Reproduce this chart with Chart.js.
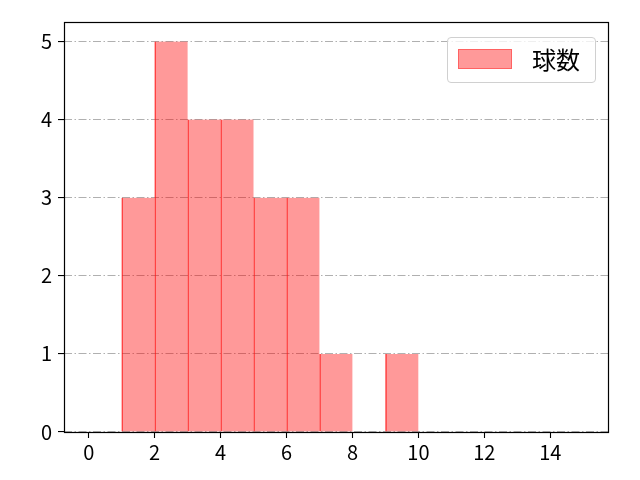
<!DOCTYPE html>
<html>
<head>
<meta charset="utf-8">
<script src="https://cdn.jsdelivr.net/npm/chart.js@4/dist/chart.umd.min.js"></script>
<style>
  html, body { margin: 0; padding: 0; background: #fff; }
  #wrap { position: relative; width: 640px; height: 480px; }
  #legend {
    position: absolute; left: 447px; top: 37px; width: 149px; height: 46px;
    border: 1px solid #d0d0d0; border-radius: 4px; background: rgba(255,255,255,0.8);
    box-sizing: border-box; font-family: 'Noto Sans CJK JP', sans-serif; font-size: 24px; color: #000;
  }
  #legend .patch { position: absolute; left: 10px; top: 11px; width: 54px; height: 20px; box-sizing: border-box; }
  #legend .txt { position: absolute; left: 84px; top: 5px; line-height: 32px; }
</style>
</head>
<body>
<div id="wrap">
  <canvas id="c" width="640" height="480"></canvas>
  <div id="legend"><div class="patch"></div><span class="txt"></span></div>
</div>
<script>
// ---- data ----
const seriesLabel = '球数';
const binStarts = [1, 2, 3, 4, 5, 6, 7, 8, 9];
const binWidth = 1;
const counts = [3, 5, 4, 4, 3, 3, 1, 0, 1];
const xTickValues = [0, 2, 4, 6, 8, 10, 12, 14];
const yTickValues = [0, 1, 2, 3, 4, 5];
const xRange = [-0.75, 15.75];
const yRange = [0, 5.25];

const fillColor = 'rgba(255, 0, 0, 0.4)';
const edgeColor = 'rgba(255, 20, 20, 0.7)';
const legendEdge = 'rgba(255, 30, 30, 0.45)';
const FONT = "'Noto Sans CJK JP', 'DejaVu Sans', sans-serif";

const points = binStarts.map((s, i) => ({ x: s + binWidth / 2, y: counts[i] === 0 ? null : counts[i] }));

document.querySelector('#legend .patch').style.background = fillColor;
document.querySelector('#legend .patch').style.border = '1px solid ' + legendEdge;
document.querySelector('#legend .txt').textContent = seriesLabel;

const framePlugin = {
  id: 'frame',
  afterDraw(chart) {
    const a = chart.chartArea, ctx = chart.ctx;
    ctx.save();
    ctx.strokeStyle = '#000';
    ctx.lineWidth = 1.2;
    ctx.strokeRect(Math.round(a.left) + 0.5, Math.round(a.top) + 0.5, Math.round(a.right - a.left), Math.round(a.bottom - a.top));
    ctx.restore();
  }
};

new Chart(document.getElementById('c'), {
  type: 'bar',
  data: {
    datasets: [{
      label: seriesLabel,
      data: points,
      backgroundColor: fillColor,
      borderColor: edgeColor,
      borderWidth: { left: 1, right: 0, top: 0, bottom: 0 },
      borderSkipped: false,
      barPercentage: 1,
      categoryPercentage: 1
    }]
  },
  plugins: [framePlugin],
  options: {
    responsive: false,
    animation: false,
    devicePixelRatio: 1,
    layout: { padding: { left: 0, right: 32, top: 22, bottom: 0 } },
    plugins: { legend: { display: false }, tooltip: { enabled: false } },
    scales: {
      x: {
        type: 'linear',
        offset: false,
        min: xRange[0], max: xRange[1],
        afterBuildTicks: (s) => { s.ticks = xTickValues.map(v => ({ value: v })); },
        afterFit: (s) => { s.height = 48; },
        ticks: { color: '#000', font: { family: FONT, size: 20 }, padding: 2, maxRotation: 0, autoSkip: false },
        grid: { offset: false, drawOnChartArea: false, drawTicks: true, tickLength: 6, tickColor: '#000', tickWidth: 1.1 },
        border: { display: false }
      },
      y: {
        type: 'linear',
        min: yRange[0], max: yRange[1],
        afterBuildTicks: (s) => { s.ticks = yTickValues.map(v => ({ value: v })); },
        afterFit: (s) => { s.width = 64; },
        ticks: { color: '#000', font: { family: FONT, size: 20 }, padding: 6 },
        grid: { drawOnChartArea: true, color: '#b0b0b0', lineWidth: 1.1, drawTicks: true, tickLength: 6, tickColor: '#000', tickWidth: 1.1, tickBorderDash: [] },
        border: { display: false, dash: [8, 2.5, 1.5, 2.5] }
      }
    }
  }
});
</script>
</body>
</html>
